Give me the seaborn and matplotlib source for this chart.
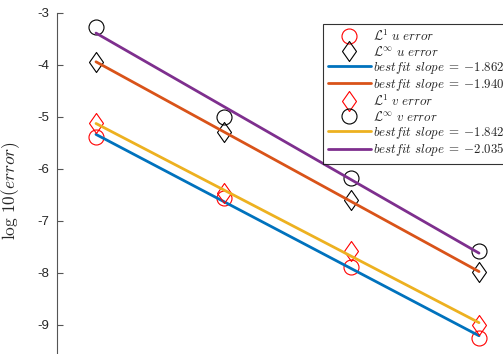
import numpy as np
import pandas as pd
import matplotlib
matplotlib.use("Agg")
import matplotlib.pyplot as plt
from matplotlib.path import Path
import seaborn as sns

# Grid sizes (x axis is the natural log of N)
N = [16, 32, 64, 128]

# log10 of the errors for each grid
l1_u = [-5.39, -6.57, -7.885, -9.26]
linf_u = [-3.954, -5.30, -6.60, -7.99]
l1_v = [-5.127, -6.473, -7.577, -9.006]
linf_v = [-3.27, -5.00, -6.185, -7.577]

# fitted convergence slopes
slope_l1_u = -1.862
slope_linf_u = -1.940
slope_l1_v = -1.842
slope_linf_v = -2.035

sns.set_style("white")
plt.rcParams["font.family"] = ["Liberation Sans", "DejaVu Sans"]
plt.rcParams["mathtext.fontset"] = "cm"
plt.rcParams["axes.unicode_minus"] = False

x = np.log(np.array(N, dtype=float))

BLUE = "#0072BD"
ORANGE = "#D95319"
YELLOW = "#EDB120"
PURPLE = "#7E2F8E"

diamond = Path([(0, 1), (0.7, 0), (0, -1), (-0.7, 0), (0, 1)], closed=True)

fig = plt.figure(figsize=(5.03, 3.54), dpi=100)
W, H = 503, 354
ax_left, ax_top = 57, 12.7
ax = fig.add_axes([ax_left / W, 0, (W - ax_left) / W, (H - ax_top) / H])


def fit_line(err, slope):
    err = np.asarray(err)
    return err.mean() + slope * (x - x.mean())


def markers(err, mk, color, label, size):
    df = pd.DataFrame({"x": x, "y": err})
    sns.lineplot(data=df, x="x", y="y", ax=ax, linestyle="none", marker=mk,
                 markersize=size, markerfacecolor="none", markeredgecolor=color,
                 markeredgewidth=0.8, color=color, label=label, sort=False)


def bestfit(err, slope, color):
    df = pd.DataFrame({"x": x, "y": fit_line(err, slope)})
    sns.lineplot(data=df, x="x", y="y", ax=ax, color=color, linewidth=2.0,
                 label=rf"$bestfit\ slope\;=\;{{{slope:.3f}}}$", sort=False)


markers(l1_u, "o", "red", r"$\mathcal{L}^1\ u\ error$", 10.8)
markers(linf_u, diamond, "black", r"$\mathcal{L}^\infty\ u\ error$", 14.4)
bestfit(l1_u, slope_l1_u, BLUE)
bestfit(linf_u, slope_linf_u, ORANGE)
markers(l1_v, diamond, "red", r"$\mathcal{L}^1\ v\ error$", 14.4)
markers(linf_v, "o", "black", r"$\mathcal{L}^\infty\ v\ error$", 10.8)
bestfit(l1_v, slope_l1_v, YELLOW)
bestfit(linf_v, slope_linf_v, PURPLE)

px_per_unit_x = (479 - 96) / (x[-1] - x[0])
ax.set_xlim(x[0] - (96 - ax_left) / px_per_unit_x, x[-1] + (W - 479) / px_per_unit_x)
ax.set_ylim(-3 - (H - ax_top) / 52.0, -3)

ax.set_yticks([-3, -4, -5, -6, -7, -8, -9])
ax.set_yticklabels(["-3", "-4", "-5", "-6", "-7", "-8", "-9"])
ax.set_xticks([])
ax.tick_params(axis="y", direction="in", length=4, width=0.8, color="#555555",
               labelsize=9.5, labelcolor="#262626", pad=5.5, left=True)
for side in ("top", "right", "bottom"):
    ax.spines[side].set_visible(False)
ax.spines["left"].set_color("#555555")
ax.spines["left"].set_linewidth(0.8)

ax.set_xlabel("")
ax.set_ylabel(r"$\log\,10(error)$", fontsize=12.5, color="#262626")
ax.yaxis.set_label_coords((22 - ax_left) / (W - ax_left), (H - 191) / (H - ax_top))

handles, labels = ax.get_legend_handles_labels()
leg = ax.legend(handles, labels, loc="upper left",
                bbox_to_anchor=(323 / W, 1 - 23.5 / H), bbox_transform=fig.transFigure,
                borderaxespad=0, fontsize=9.3, frameon=True, fancybox=False,
                edgecolor="black", handlelength=3.3, handletextpad=0.15,
                labelspacing=0.07, borderpad=0.4, numpoints=1)
leg.get_frame().set_linewidth(0.8)

fig.savefig("out.png", dpi=100)
